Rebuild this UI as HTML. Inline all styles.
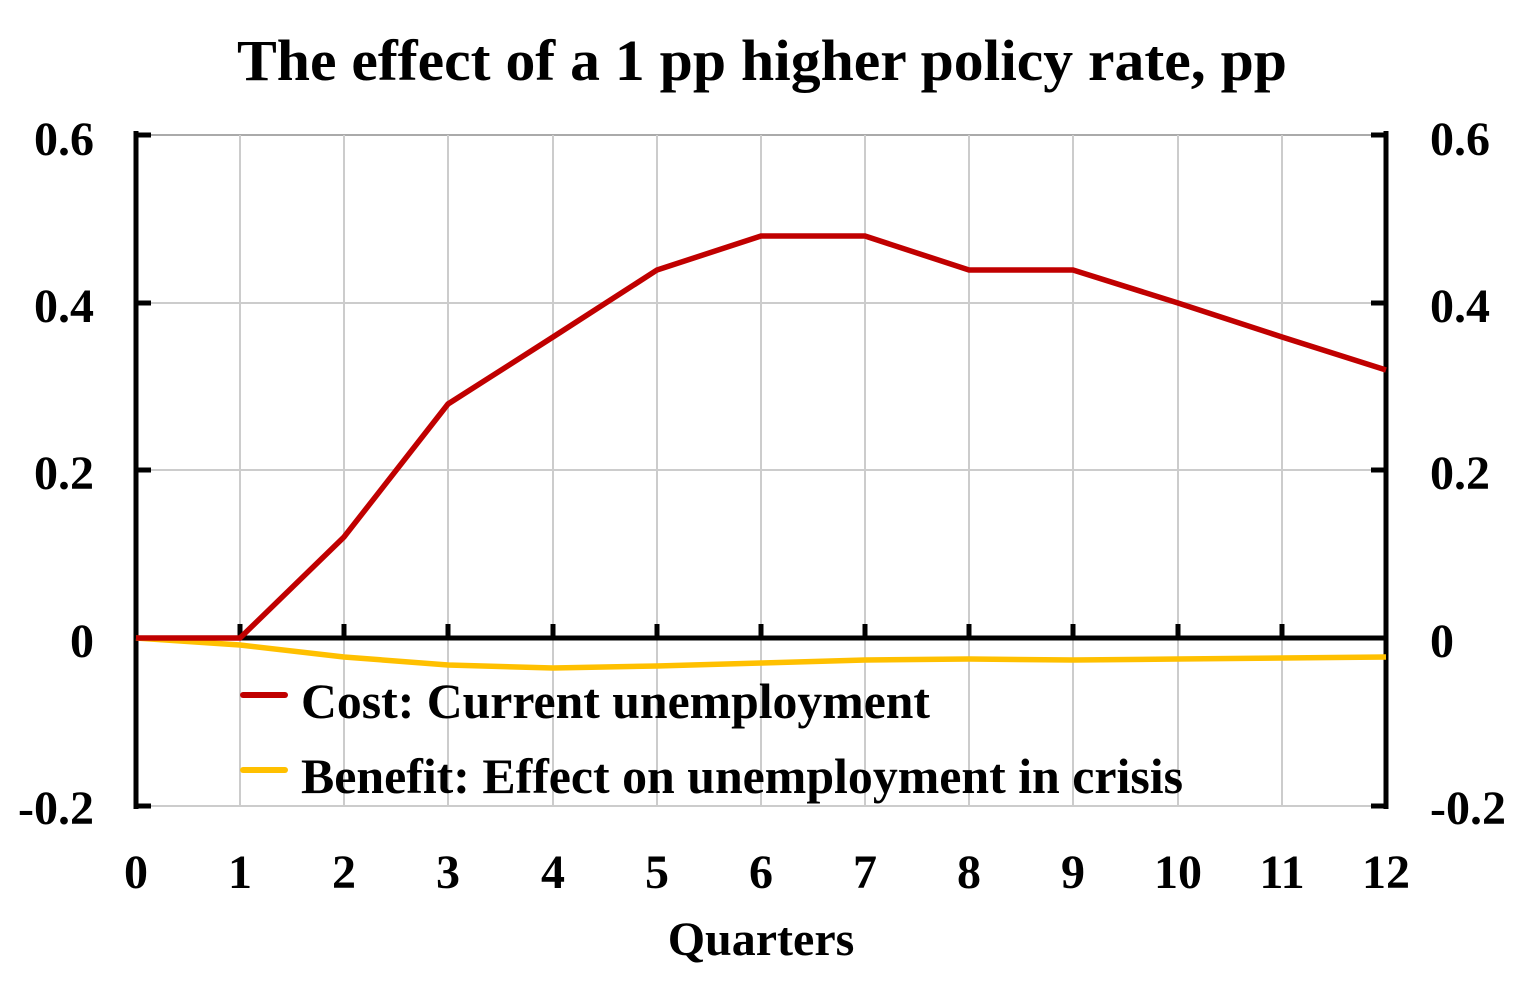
<!DOCTYPE html>
<html><head><style>body{margin:0;background:#fff}</style></head><body>
<svg width="1524" height="995" xmlns="http://www.w3.org/2000/svg" font-family="Liberation Serif, serif" font-weight="bold">
<text x="762" y="80" font-size="58" text-anchor="middle" textLength="1050" lengthAdjust="spacingAndGlyphs">The effect of a 1 pp higher policy rate, pp</text>
<g stroke="#cccccc" stroke-width="2">
<line x1="136" y1="135" x2="1386" y2="135" stroke="#aaa"/>
<line x1="136" y1="303" x2="1386" y2="303"/>
<line x1="136" y1="470" x2="1386" y2="470"/>
<line x1="136" y1="806" x2="1386" y2="806"/>
<line x1="240" y1="135" x2="240" y2="806"/><line x1="344" y1="135" x2="344" y2="806"/><line x1="448" y1="135" x2="448" y2="806"/><line x1="553" y1="135" x2="553" y2="806"/><line x1="657" y1="135" x2="657" y2="806"/><line x1="761" y1="135" x2="761" y2="806"/><line x1="865" y1="135" x2="865" y2="806"/><line x1="969" y1="135" x2="969" y2="806"/><line x1="1073" y1="135" x2="1073" y2="806"/><line x1="1178" y1="135" x2="1178" y2="806"/><line x1="1282" y1="135" x2="1282" y2="806"/>
</g>
<g stroke="#000" stroke-width="5">
<line x1="136" y1="131" x2="136" y2="809"/><line x1="1386" y1="131" x2="1386" y2="809"/>
<line x1="136" y1="638" x2="1386" y2="638"/>
<line x1="136" y1="135" x2="151" y2="135"/><line x1="136" y1="303" x2="151" y2="303"/><line x1="136" y1="470" x2="151" y2="470"/><line x1="136" y1="806" x2="151" y2="806"/>
<line x1="1371" y1="135" x2="1386" y2="135"/><line x1="1371" y1="303" x2="1386" y2="303"/><line x1="1371" y1="470" x2="1386" y2="470"/><line x1="1371" y1="806" x2="1386" y2="806"/>
<path d="M240 624V638M344 624V638M448 624V638M553 624V638M657 624V638M761 624V638M865 624V638M969 624V638M1073 624V638M1178 624V638M1282 624V638"/>
</g>
<polyline fill="none" stroke="#ffc000" stroke-width="5.5" points="136,638 240,645 344,657 448,665 553,668 657,666 761,663 865,660 969,659 1073,660 1178,659 1282,658 1386,657"/>
<polyline fill="none" stroke="#c00000" stroke-width="5.5" points="136,638 240,638 344,537 448,404 553,337 657,270 761,236 865,236 969,270 1073,270 1178,303 1282,337 1386,370"/>
<line x1="243" y1="695" x2="285" y2="695" stroke="#c00000" stroke-width="6" stroke-linecap="round"/>
<line x1="243" y1="770" x2="285" y2="770" stroke="#ffc000" stroke-width="6" stroke-linecap="round"/>
<g font-size="50">
<text x="301" y="718" textLength="629" lengthAdjust="spacingAndGlyphs">Cost: Current unemployment</text>
<text x="301" y="793" textLength="882" lengthAdjust="spacingAndGlyphs">Benefit: Effect on unemployment in crisis</text>
</g>
<g font-size="48" text-anchor="end">
<text x="94" y="155">0.6</text><text x="94" y="322">0.4</text><text x="94" y="489">0.2</text><text x="94" y="657">0</text><text x="94" y="824">-0.2</text>
</g>
<g font-size="48" text-anchor="start">
<text x="1430" y="155">0.6</text><text x="1430" y="322">0.4</text><text x="1430" y="489">0.2</text><text x="1430" y="657">0</text><text x="1430" y="824">-0.2</text>
</g>
<g font-size="48" text-anchor="middle">
<text x="136" y="888">0</text><text x="240" y="888">1</text><text x="344" y="888">2</text><text x="448" y="888">3</text><text x="553" y="888">4</text><text x="657" y="888">5</text><text x="761" y="888">6</text><text x="865" y="888">7</text><text x="969" y="888">8</text><text x="1073" y="888">9</text><text x="1178" y="888">10</text><text x="1282" y="888">11</text><text x="1386" y="888">12</text>
<text x="761" y="955">Quarters</text>
</g>
</svg>
</body></html>
